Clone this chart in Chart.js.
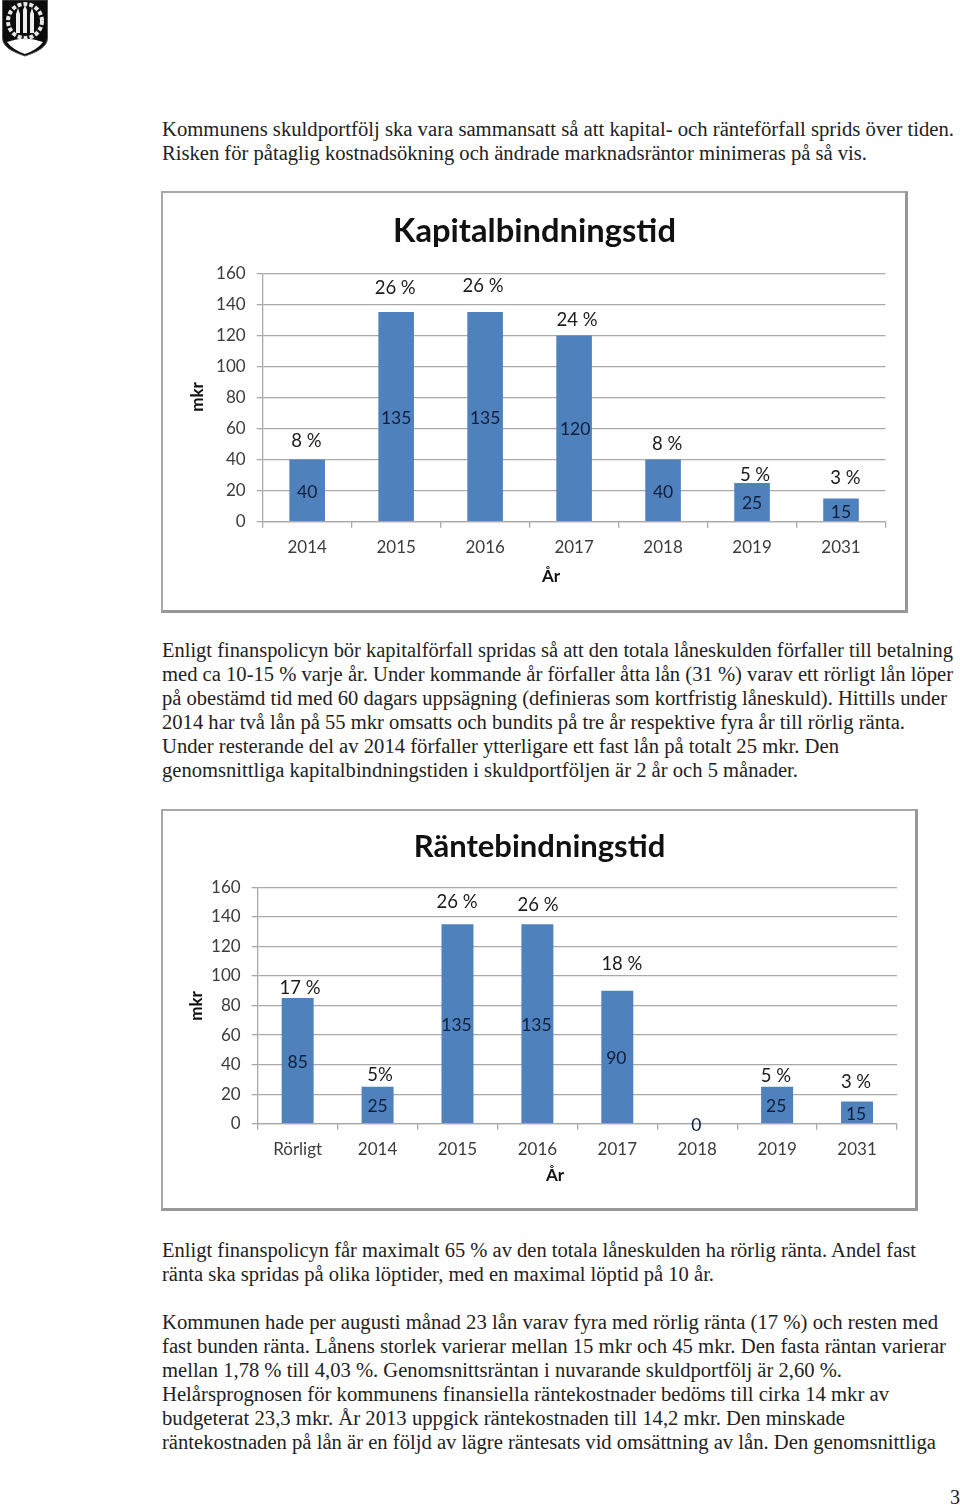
<!DOCTYPE html>
<html lang="sv"><head><meta charset="utf-8">
<script src="https://cdn.jsdelivr.net/npm/chart.js@4"></script>
<style>
html,body{margin:0;padding:0;background:#fff;width:960px;height:1505px;overflow:hidden}
.line{position:absolute;left:162px;white-space:nowrap;font:20px "Liberation Serif",serif;color:#222;line-height:24px;transform-origin:0 0}
.frame{position:absolute;box-sizing:border-box;border:2px solid #a8a8a8;border-right:3px solid #979797;border-bottom:3px solid #979797;background:#fff}
canvas{position:absolute;display:block}
#logo{position:absolute;left:1px;top:0}
</style></head><body>
<svg id="logo" width="48" height="57" viewBox="0 0 48 57">
<path d="M1.5 0H46.500V38C46.500 47 36 52 24 56C12 52 1.500 47 1.500 38Z" fill="#0b0b0b" stroke="#555" stroke-width="1"/>
<path d="M6 42Q24 35 42 42Q36 50 24 54Q12 50 6 42Z" fill="#fff"/>
<circle cx="24" cy="21" r="17" fill="none" stroke="#e6e6e6" stroke-width="4" stroke-dasharray="4 2"/>
<path d="M15 33V14L17 8L19 14V33ZM22 33V10L24 5L26 10V33ZM29 33V14L31 8L33 14V33Z" fill="#eee"/>
</svg>
<div class="frame" style="left:161px;top:191px;width:747px;height:422px"></div>
<div class="frame" style="left:161px;top:809px;width:757px;height:402px"></div>
<canvas id="c1" width="747" height="422" style="left:161px;top:191px"></canvas>
<canvas id="c2" width="757" height="402" style="left:161px;top:809px"></canvas>
<div id="text"></div>
<script>
const categories1 = ["2014","2015","2016","2017","2018","2019","2031"];
const values1 = [40,135,135,120,40,25,15];
const percents1 = ["8 %","26 %","26 %","24 %","8 %","5 %","3 %"];
const categories2 = ["Rörligt","2014","2015","2016","2017","2018","2019","2031"];
const values2 = [85,25,135,135,90,0,25,15];
const percents2 = ["17 %","5%","26 %","26 %","18 %","","5 %","3 %"];

const pctNudge1 = [[-0.7,-18.6],[-1,-24],[-2,-26],[3,-15.4],[4,-15.6],[3,-8],[4.5,-20.5]];
const pctNudge2 = [[2.3,-10],[2.4,-12],[-0.5,-22],[0.6,-19],[4.6,-26.5],[0,0],[-1.2,-11],[-1,-20]];
const valNudge1 = [[0,1.5],[0,1.5],[0,1.5],[1,1],[0,1.5],[0,1.5],[0,2]];
const valNudge2 = [[0,1.5],[0,1.5],[-1,1.5],[-1,1.5],[-1,1.5],[-1,1.5],[-1,1.5],[-1,1.5]];

const FONT = 'Lato, "Open Sans", sans-serif';
const GRID = '#a9a9a9', TICK = '#3c3c3c', BAR = '#4f81bd';

const barLabels = {
  id:'barLabels',
  afterDatasetsDraw(chart,args,o){
    const ctx = chart.ctx, meta = chart.getDatasetMeta(0);
    ctx.save(); ctx.textAlign='center'; ctx.textBaseline='middle';
    meta.data.forEach((b,i)=>{
      const base = chart.scales.y.getPixelForValue(0);
      ctx.font = '17.500px '+FONT; ctx.fillStyle='#0f1f3d';
      ctx.fillText(String(o.values[i]), b.x+o.valNudge[i][0], (b.y+base)/2+o.valNudge[i][1]);
      ctx.font = '18.500px '+FONT; ctx.fillStyle='#1a1a1a';
      if(o.percents[i]) ctx.fillText(o.percents[i], b.x+o.pctNudge[i][0], b.y+o.pctNudge[i][1]);
    });
    ctx.fillStyle='#111'; ctx.font='bold 17px '+FONT;
    ctx.fillText('År', o.arX, o.arY);
    ctx.translate(o.mkrX,o.mkrY); ctx.rotate(-Math.PI/2);
    ctx.fillText('mkr',0,0);
    ctx.restore();
  }
};

function build(id,title,cats,vals,pcts,pn,vn,g){
  new Chart(document.getElementById(id),{
    type:'bar',
    data:{labels:cats,datasets:[{data:vals,backgroundColor:BAR,barPercentage:0.4,categoryPercentage:1}]},
    plugins:[barLabels],
    options:{
      responsive:false,animation:false,
      layout:{padding:{left:g.right,top:0,right:g.right,bottom:0}},
      plugins:{
        legend:{display:false},tooltip:{enabled:false},
        title:{display:true,text:title,color:'#111',font:{family:FONT,size:g.titleSize,weight:'bold',lineHeight:1.2},
          padding:{top:g.titleTop,bottom:g.titleBottom}},
        barLabels:{values:vals,percents:pcts,pctNudge:pn,valNudge:vn,arX:g.arX,arY:g.arY,mkrX:g.mkrX,mkrY:g.mkrY}
      },
      scales:{
        x:{
          afterFit(s){s.height=g.xH;},
          grid:{drawOnChartArea:false,color:GRID,lineWidth:1.3,tickLength:6},
          border:{color:GRID,width:1.3},
          ticks:{color:TICK,font:{family:FONT,size:g.tickSize},padding:g.xPad,autoSkip:false,maxRotation:0}
        },
        y:{
          min:0,max:160,
          afterFit(s){s.width=g.yW;},
          grid:{color:GRID,lineWidth:1.3,tickLength:6},
          border:{color:GRID,width:1.3},
          ticks:{stepSize:20,color:TICK,font:{family:FONT,size:g.tickSize},padding:11}
        }
      }
    }
  });
}

build('c1','Kapitalbindningstid',categories1,values1,percents1,pctNudge1,valNudge1,
 {right:22.5,titleSize:32.7,titleTop:20.4,titleBottom:22.66,xH:91.3,yW:79.2,tickSize:17,xPad:10,arX:390,arY:386,mkrX:37,mkrY:206});
build('c2','Räntebindningstid',categories2,values2,percents2,pctNudge2,valNudge2,
 {right:21,titleSize:31,titleTop:19.4,titleBottom:21.7,xH:87.3,yW:75.7,tickSize:17,xPad:10,arX:394,arY:367,mkrX:36,mkrY:197});

const bodyLines = [
 [129,954,"Kommunens skuldportfölj ska vara sammansatt så att kapital- och ränteförfall sprids över tiden."],
 [153,867,"Risken för påtaglig kostnadsökning och ändrade marknadsräntor minimeras på så vis."],
 [650,953,"Enligt finanspolicyn bör kapitalförfall spridas så att den totala låneskulden förfaller till betalning"],
 [674,953,"med ca 10-15 % varje år. Under kommande år förfaller åtta lån (31 %) varav ett rörligt lån löper"],
 [698,947,"på obestämd tid med 60 dagars uppsägning (definieras som kortfristig låneskuld). Hittills under"],
 [722,905,"2014 har två lån på 55 mkr omsatts och bundits på tre år respektive fyra år till rörlig ränta."],
 [746,839,"Under resterande del av 2014 förfaller ytterligare ett fast lån på totalt 25 mkr. Den"],
 [770,798,"genomsnittliga kapitalbindningstiden i skuldportföljen är 2 år och 5 månader."],
 [1250,916,"Enligt finanspolicyn får maximalt 65 % av den totala låneskulden ha rörlig ränta. Andel fast"],
 [1274,714,"ränta ska spridas på olika löptider, med en maximal löptid på 10 år."],
 [1322,938,"Kommunen hade per augusti månad 23 lån varav fyra med rörlig ränta (17 %) och resten med"],
 [1346,946,"fast bunden ränta. Lånens storlek varierar mellan 15 mkr och 45 mkr. Den fasta räntan varierar"],
 [1370,842,"mellan 1,78 % till 4,03 %. Genomsnittsräntan i nuvarande skuldportfölj är 2,60 %."],
 [1394,889,"Helårsprognosen för kommunens finansiella räntekostnader bedöms till cirka 14 mkr av"],
 [1418,845,"budgeterat 23,3 mkr. År 2013 uppgick räntekostnaden till 14,2 mkr. Den minskade"],
 [1442,936,"räntekostnaden på lån är en följd av lägre räntesats vid omsättning av lån. Den genomsnittliga"]
];
const holder = document.getElementById('text');
bodyLines.forEach(([y,right,t])=>{
  const d=document.createElement('div'); d.className='line'; d.textContent=t;
  d.style.top=(y-12)+'px'; holder.appendChild(d);
  d.style.transform='scaleX('+((right-162)/d.getBoundingClientRect().width)+')';
});
const pg=document.createElement('div'); pg.className='line'; pg.textContent='3';
pg.style.left='950px'; pg.style.top='1485px'; holder.appendChild(pg);
</script>
</body></html>
